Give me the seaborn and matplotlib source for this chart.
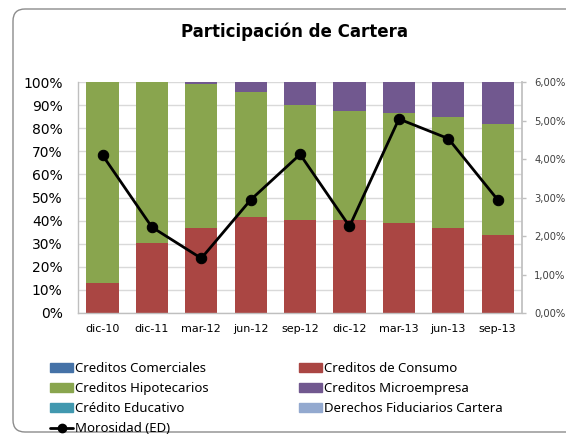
import numpy as np
import pandas as pd
import matplotlib
matplotlib.use("Agg")
import matplotlib.pyplot as plt
import seaborn as sns
from matplotlib.patches import FancyBboxPatch
from matplotlib.lines import Line2D
from matplotlib.ticker import FuncFormatter, MultipleLocator

sns.set_theme(style="white")
plt.rcParams['font.family'] = ['DejaVu Sans']
plt.rcParams['text.color'] = 'black'

# ---- data ----
categories = ["dic-10", "dic-11", "mar-12", "jun-12", "sep-12", "dic-12", "mar-13", "jun-13", "sep-13"]
comerciales = [0, 0, 0, 0, 0, 0, 0, 0, 0]
consumo = [13.1, 30.3, 36.8, 41.6, 40.4, 40.4, 39.0, 36.8, 33.6]
hipotecarios = [86.9, 69.7, 62.5, 54.2, 49.8, 46.9, 47.7, 48.0, 48.1]
microempresa = [0.0, 0.0, 0.7, 4.2, 9.8, 12.7, 13.3, 15.2, 18.3]
educativo = [0, 0, 0, 0, 0, 0, 0, 0, 0]
fiduciarios = [0, 0, 0, 0, 0, 0, 0, 0, 0]
morosidad = [4.10, 2.23, 1.42, 2.94, 4.12, 2.25, 5.04, 4.53, 2.94]

series_names = ["Creditos Comerciales", "Creditos de Consumo", "Creditos Hipotecarios",
                "Creditos Microempresa", "Crédito Educativo", "Derechos Fiduciarios Cartera"]
series_vals = [comerciales, consumo, hipotecarios, microempresa, educativo, fiduciarios]
colors = ["#4572A7", "#AA4643", "#89A54E", "#71588F", "#4198AF", "#93A9CF"]

fig = plt.figure(figsize=(5.66, 4.34), dpi=100)
fig.patch.set_facecolor("white")

# rounded chart border (pixel coords)
border = FancyBboxPatch((13, 2), 600, 423, boxstyle="round,pad=0,rounding_size=12",
                        transform=None, facecolor="white", edgecolor="#8C8C8C",
                        linewidth=1.0, zorder=-10)
fig.patches.append(border)

ax = fig.add_axes([77.8 / 566, 1 - 313 / 434, (522.4 - 77.8) / 566, (313 - 82) / 434])
ax.set_facecolor("none")

# cumulative stacks drawn from top down
cum = np.cumsum(np.array(series_vals, dtype=float), axis=0)
handles = {}
for i in range(len(series_names) - 1, -1, -1):
    df = pd.DataFrame({"cat": categories, "val": cum[i]})
    sns.barplot(data=df, x="cat", y="val", color=colors[i], width=0.65,
                saturation=1, ax=ax, zorder=2, linewidth=0)
    handles[series_names[i]] = plt.Rectangle((0, 0), 1, 1, color=colors[i])

ax.set_ylim(0, 100)
ax.set_xlim(-0.5, len(categories) - 0.5)
ax.yaxis.set_major_locator(MultipleLocator(10))
ax.yaxis.set_major_formatter(FuncFormatter(lambda v, p: f"{v:.0f}%"))
ax.set_xlabel("")
ax.set_ylabel("")
ax.grid(axis="y", color="#D9D9D9", linewidth=1.0, zorder=0)
ax.set_axisbelow(True)
for s in ["top", "right"]:
    ax.spines[s].set_visible(False)
for s in ["left", "bottom"]:
    ax.spines[s].set_color("#BFBFBF")
    ax.spines[s].set_linewidth(1.0)
ax.tick_params(axis="y", labelsize=10, colors="black", length=0, pad=11)
ax.tick_params(axis="x", labelsize=8, colors="black", length=0, pad=8)
for t in ax.get_yticklabels() + ax.get_xticklabels():
    t.set_color("black")

ax2 = ax.twinx()
pos = np.arange(len(categories))
sns.lineplot(x=pos, y=morosidad, ax=ax2, color="black", linewidth=2,
             marker="o", markersize=7.5, markeredgecolor="black", zorder=5)
ax2.set_ylim(0, 6)
ax2.set_xlim(-0.5, len(categories) - 0.5)
ax2.yaxis.set_major_locator(MultipleLocator(1))
ax2.yaxis.set_major_formatter(FuncFormatter(lambda v, p: f"{v:.2f}%".replace(".", ",")))
for s in ["top", "left", "bottom"]:
    ax2.spines[s].set_visible(False)
ax2.spines["right"].set_color("#BFBFBF")
ax2.tick_params(axis="y", labelsize=7.2, labelcolor="#404040", length=3, width=1,
                direction="out", color="#BFBFBF", pad=5.5, right=True)
ax2.grid(False)

fig.text(0.52, 1 - 32 / 434, "Participación de Cartera", ha="center", va="center",
         fontsize=12, fontweight="bold", color="black")

moro_handle = Line2D([0], [0], color="black", linewidth=2, marker="o", markersize=6)
order = ["Creditos Comerciales", "Creditos Hipotecarios", "Crédito Educativo", None,
         "Creditos de Consumo", "Creditos Microempresa", "Derechos Fiduciarios Cartera"]
hs, ls = [], []
for name in order:
    if name is None:
        hs.append(moro_handle)
        ls.append("Morosidad (ED)")
    else:
        hs.append(handles[name])
        ls.append(name)
leg = fig.legend(hs, ls, ncol=2, loc="upper left", bbox_to_anchor=(50 / 566, 1 - 362 / 434),
                 frameon=False, prop={"family": "Noto Sans", "size": 9.5},
                 handlelength=1.75, handleheight=0.6,
                 handletextpad=0.12, labelspacing=0.53, columnspacing=6.9, borderaxespad=0,
                 borderpad=0)
for t in leg.get_texts():
    t.set_color("black")

fig.savefig("out.png", dpi=100)
